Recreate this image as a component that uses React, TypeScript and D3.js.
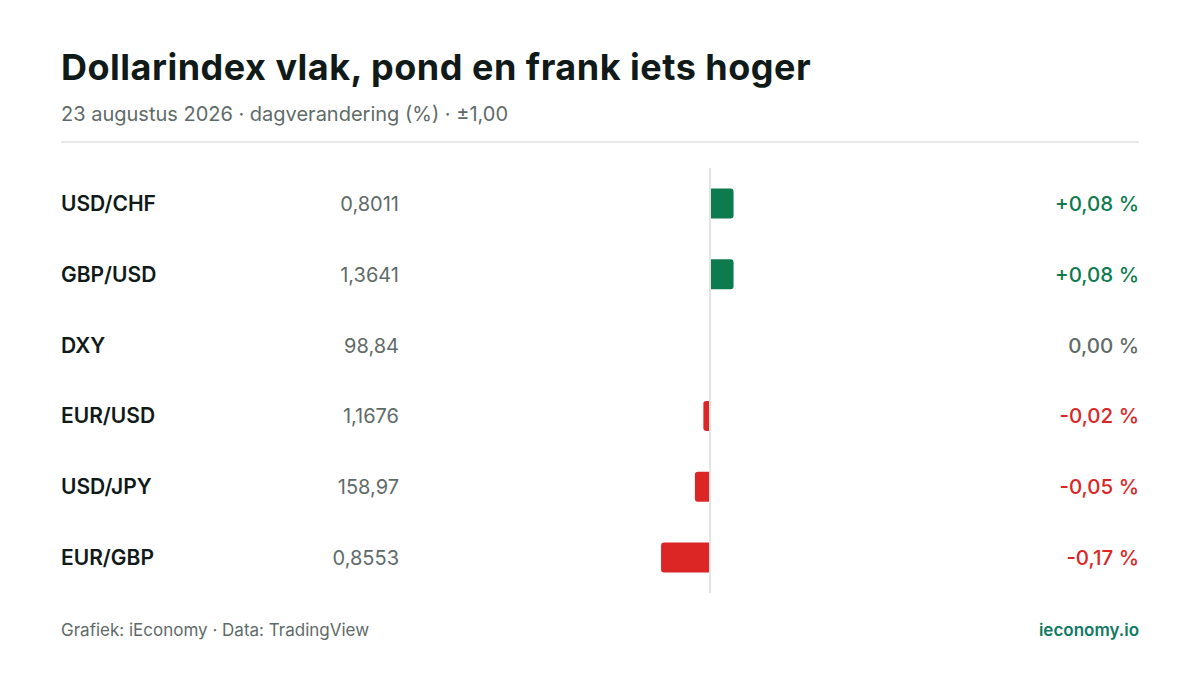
import { useEffect, useRef } from 'react';
import * as d3 from 'd3';

const pairs = ['USD/CHF', 'GBP/USD', 'DXY', 'EUR/USD', 'USD/JPY', 'EUR/GBP'];
const prices = [0.8011, 1.3641, 98.84, 1.1676, 158.97, 0.8553];
const priceDecimals = [4, 4, 2, 4, 2, 4];
const changes = [0.08, 0.08, 0.0, -0.02, -0.05, -0.17];
const changeDomain = [-1, 1];

const title = 'Dollarindex vlak, pond en frank iets hoger';
const subtitle = '23 augustus 2026 · dagverandering (%) · ±1,00';
const source = 'Grafiek: iEconomy · Data: TradingView';
const brand = 'ieconomy.io';

const GREEN = '#0e7b4f';
const RED = '#dc2626';
const GRAY = '#5f6b69';
const DARK = '#0f1a19';
const FONT = 'Inter, "Noto Sans", sans-serif';

const nlNum = (v: number, d: number) => v.toFixed(d).replace('.', ',');

export default function App() {
  const svgRef = useRef<SVGSVGElement>(null);
  const width = 1200;
  const height = 675;

  useEffect(() => {
    if (!svgRef.current) return;
    const svg = d3.select(svgRef.current);
    svg.selectAll('*').remove();

    const left = 61;
    const right = 1139;

    svg.append('rect').attr('width', width).attr('height', height).attr('fill', '#ffffff');

    // Title + subtitle
    svg.append('text')
      .attr('x', left).attr('y', 80)
      .attr('font-size', '36px').attr('font-weight', 700)
      .attr('fill', DARK).style('font-family', FONT)
      .style('letter-spacing', '0.5px')
      .text(title);

    svg.append('text')
      .attr('x', left).attr('y', 121)
      .attr('font-size', '20px').attr('font-weight', 400)
      .attr('fill', GRAY).style('font-family', FONT)
      .text(subtitle);

    svg.append('line')
      .attr('x1', left).attr('x2', right)
      .attr('y1', 142).attr('y2', 142)
      .attr('stroke', '#dfe3e2').attr('stroke-width', 1.5);

    // Scales
    const x = d3.scaleLinear().domain(changeDomain).range([428, 992]);
    const y = d3.scalePoint<string>().domain(pairs).range([168, 593]).padding(0.5);
    const barH = 30;
    const r = 3;

    // Zero axis
    svg.append('line')
      .attr('x1', x(0)).attr('x2', x(0))
      .attr('y1', 168).attr('y2', 593)
      .attr('stroke', '#e0e4e3').attr('stroke-width', 2);

    const rows = pairs.map((p, i) => ({
      pair: p,
      price: prices[i],
      dec: priceDecimals[i],
      change: changes[i],
    }));

    const barPath = (v: number, cy: number) => {
      const x0 = x(0) + (v >= 0 ? 1 : -1);
      const x1 = x(v) + (v >= 0 ? 1 : -1);
      const top = cy - barH / 2;
      const bot = cy + barH / 2;
      const w = Math.abs(x1 - x0);
      const rr = Math.min(r, w / 2);
      if (v >= 0) {
        return `M${x0},${top}H${x1 - rr}Q${x1},${top} ${x1},${top + rr}V${bot - rr}Q${x1},${bot} ${x1 - rr},${bot}H${x0}Z`;
      }
      return `M${x0},${top}H${x1 + rr}Q${x1},${top} ${x1},${top + rr}V${bot - rr}Q${x1},${bot} ${x1 + rr},${bot}H${x0}Z`;
    };

    const g = svg.append('g');
    g.selectAll('path.bar')
      .data(rows.filter(d => d.change !== 0))
      .enter()
      .append('path')
      .attr('class', 'bar')
      .attr('d', d => barPath(d.change, y(d.pair) as number))
      .attr('fill', d => (d.change > 0 ? GREEN : RED));

    // Pair labels
    g.selectAll('text.pair')
      .data(rows)
      .enter()
      .append('text')
      .attr('class', 'pair')
      .attr('x', left)
      .attr('y', d => (y(d.pair) as number) + 7.5)
      .attr('font-size', '21px').attr('font-weight', 600)
      .attr('fill', DARK).style('font-family', FONT)
      .text(d => d.pair);

    // Prices
    g.selectAll('text.price')
      .data(rows)
      .enter()
      .append('text')
      .attr('class', 'price')
      .attr('x', 399)
      .attr('y', d => (y(d.pair) as number) + 7.5)
      .attr('text-anchor', 'end')
      .attr('font-size', '20px').attr('font-weight', 400)
      .attr('fill', GRAY).style('font-family', FONT)
      .text(d => nlNum(d.price, d.dec));

    // Change labels
    g.selectAll('text.chg')
      .data(rows)
      .enter()
      .append('text')
      .attr('class', 'chg')
      .attr('x', right)
      .attr('y', d => (y(d.pair) as number) + 7.5)
      .attr('text-anchor', 'end')
      .attr('font-size', '20.5px').attr('font-weight', 500)
      .attr('fill', d => (d.change > 0 ? GREEN : d.change < 0 ? RED : GRAY))
      .style('font-family', FONT)
      .text(d => `${d.change > 0 ? '+' : ''}${nlNum(d.change, 2)} %`);

    // Footer
    svg.append('text')
      .attr('x', left).attr('y', 636)
      .attr('font-size', '17px').attr('font-weight', 400)
      .attr('fill', GRAY).style('font-family', FONT)
      .text(source);

    svg.append('text')
      .attr('x', right).attr('y', 636)
      .attr('text-anchor', 'end')
      .attr('font-size', '17px').attr('font-weight', 600)
      .attr('fill', '#0f7a63').style('font-family', FONT)
      .text(brand);
  }, []);

  return (
    <div style={{ position: 'absolute', left: 0, top: 0, width, height }}>
      <svg ref={svgRef} width={width} height={height} style={{ display: 'block' }} />
    </div>
  );
}
